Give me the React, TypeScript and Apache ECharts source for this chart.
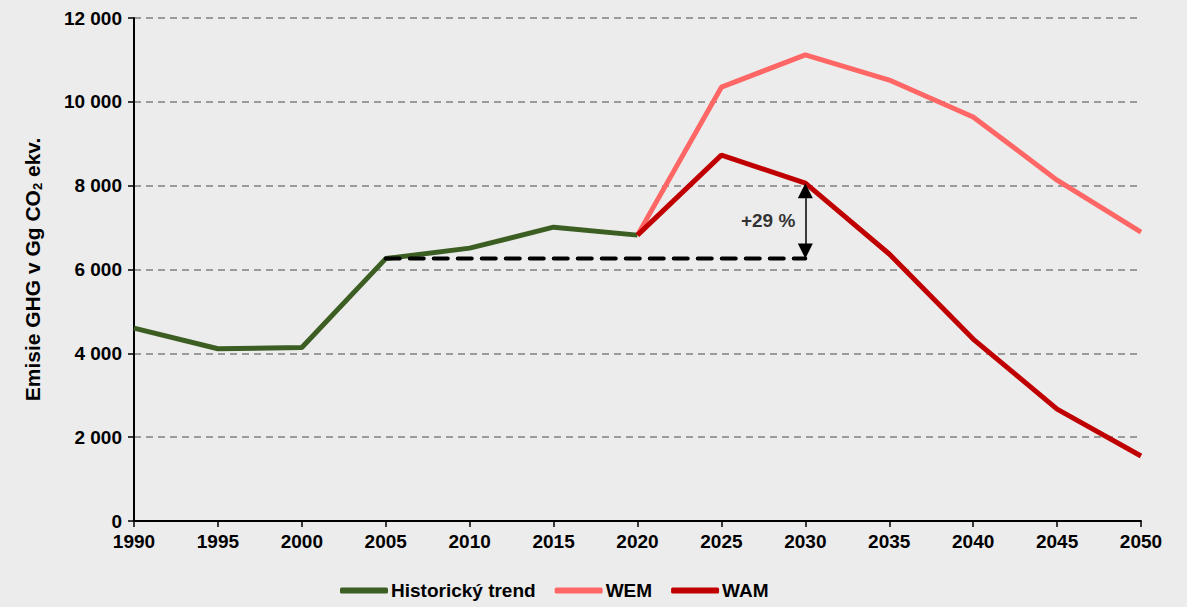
import React, { useEffect, useRef } from "react";
import * as echarts from "echarts";

const years = [1990, 1995, 2000, 2005, 2010, 2015, 2020, 2025, 2030, 2035, 2040, 2045, 2050];
const historicYears = [1990, 1995, 2000, 2005, 2010, 2015, 2020];
const historicValues = [4600, 4110, 4140, 6260, 6510, 7010, 6820];
const projYears = [2020, 2025, 2030, 2035, 2040, 2045, 2050];
const wemValues = [6820, 10350, 11120, 10520, 9640, 8130, 6890];
const wamValues = [6820, 8730, 8060, 6370, 4340, 2670, 1550];
const baseYears = [2005, 2030];
const baseValue = 6260;
const arrowTop = 8060;
const changeLabel = "+29 %";

const FONT = "'Liberation Sans', Arial, sans-serif";
const ARROW_SIZE = 15;

export default function App() {
  const ref = useRef<HTMLDivElement>(null);
  useEffect(() => {
    if (!ref.current) return;
    const chart = echarts.init(ref.current, null, { renderer: "svg" });
    const fmt = (v: number) => {
      const s = String(Math.round(v));
      return s.replace(/\B(?=(\d{3})+(?!\d))/g, " ");
    };
    // half arrow head expressed in value units (plot height 503px for 12000)
    const pad = ((ARROW_SIZE / 2) * 12000) / 503;
    chart.setOption({
      animation: false,
      backgroundColor: "#ececec",
      textStyle: { fontFamily: FONT },
      grid: { left: 134, right: 46, top: 18, bottom: 86 },
      legend: {
        left: 335,
        bottom: 2,
        itemWidth: 48,
        itemHeight: 6,
        itemGap: 19,
        icon: "roundRect",
        data: ["Historický trend", "WEM", "WAM"],
        textStyle: { fontFamily: FONT, fontWeight: "bold", fontSize: 19, color: "#000", padding: [0, 0, 0, -2] },
      },
      xAxis: {
        type: "value",
        min: years[0],
        max: years[years.length - 1],
        interval: 5,
        axisLine: { lineStyle: { color: "#000", width: 2 } },
        axisTick: { show: true, length: 6, lineStyle: { color: "#000", width: 1.5 } },
        axisLabel: {
          color: "#000",
          fontWeight: "bold",
          fontSize: 19,
          fontFamily: FONT,
          margin: 11,
          formatter: (v: number) => String(v),
        },
        splitLine: { show: false },
      },
      yAxis: {
        type: "value",
        min: 0,
        max: 12000,
        interval: 2000,
        name: "Emisie GHG v Gg CO{sub|2} ekv.",
        nameLocation: "middle",
        nameGap: 90,
        nameRotate: 90,
        nameTextStyle: {
          color: "#000",
          fontWeight: "bold",
          fontSize: 21,
          fontFamily: FONT,
          rich: {
            sub: { fontSize: 13, fontWeight: "bold", fontFamily: FONT, color: "#000", padding: [10, 0, 0, 0] },
          },
        },
        axisLine: { show: true, lineStyle: { color: "#000", width: 2 } },
        axisTick: { show: true, length: 6, lineStyle: { color: "#000", width: 1.5 } },
        axisLabel: { color: "#000", fontWeight: "bold", fontSize: 19, fontFamily: FONT, margin: 12, formatter: fmt },
        splitLine: { show: true, lineStyle: { color: "#808080", width: 1.5, type: [7, 5] } },
      },
      series: [
        {
          name: "Historický trend",
          type: "line",
          data: historicYears.map((y, i) => [y, historicValues[i]]),
          symbol: "none",
          lineStyle: { color: "#3d5e23", width: 5 },
          itemStyle: { color: "#3d5e23" },
          z: 3,
        },
        {
          name: "WEM",
          type: "line",
          data: projYears.map((y, i) => [y, wemValues[i]]),
          symbol: "none",
          lineStyle: { color: "#ff6666", width: 5 },
          itemStyle: { color: "#ff6666" },
          z: 2,
        },
        {
          name: "WAM",
          type: "line",
          data: projYears.map((y, i) => [y, wamValues[i]]),
          symbol: "none",
          lineStyle: { color: "#c00000", width: 5 },
          itemStyle: { color: "#c00000" },
          z: 4,
        },
        {
          name: "base",
          type: "line",
          data: baseYears.map((y) => [y, baseValue]),
          symbol: "none",
          lineStyle: { color: "#000", width: 4, type: [14, 10], cap: "round" },
          z: 5,
          markLine: {
            silent: true,
            symbol: ["triangle", "triangle"],
            symbolSize: ARROW_SIZE,
            lineStyle: { color: "#000", width: 1.5, type: "solid" },
            label: { show: false },
            data: [[{ coord: [baseYears[1], baseValue + pad] }, { coord: [baseYears[1], arrowTop - pad] }]],
          },
        },
        {
          name: "label",
          type: "scatter",
          data: [[baseYears[1], (baseValue + arrowTop) / 2]],
          symbolSize: 0,
          label: {
            show: true,
            position: "left",
            distance: 10,
            formatter: changeLabel,
            color: "#000",
            fontWeight: "bold",
            fontSize: 19,
            fontFamily: FONT,
          },
          z: 6,
        },
      ],
    });
    return () => chart.dispose();
  }, []);
  return <div ref={ref} style={{ width: 1187, height: 607, position: "absolute", left: 0, top: 0 }} />;
}
